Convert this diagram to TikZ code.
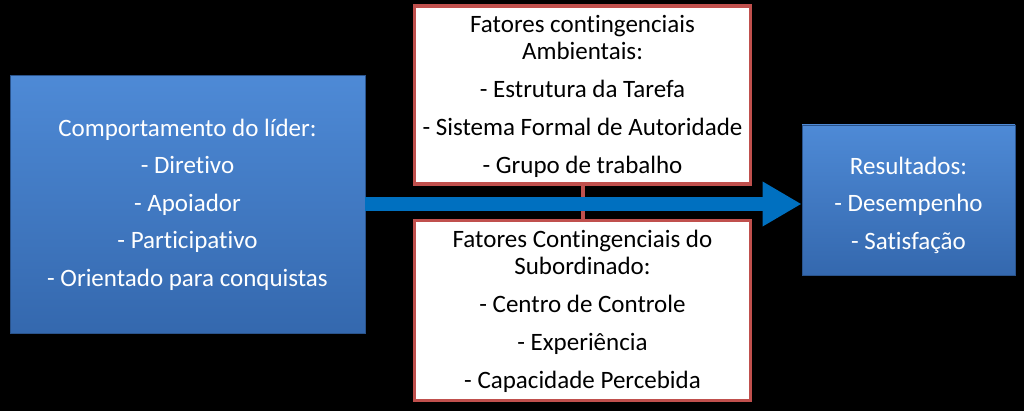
\documentclass[tikz,border=0pt]{standalone}
\usepackage{fontspec}
\setmainfont[Ligatures={NoCommon}]{Carlito}
\usetikzlibrary{arrows.meta}
\definecolor{bluetop}{RGB}{78,138,214}
\definecolor{bluebot}{RGB}{52,104,174}
\definecolor{redb}{RGB}{192,80,77}
\definecolor{arrowblue}{RGB}{0,112,192}
\newcommand{\shiftedlines}[2]{\raisebox{#1}[\height][\depth]{\begin{tabular}{@{}c@{}}#2\end{tabular}}}
\tikzset{
  bluebox/.style={rectangle, top color=bluetop, bottom color=bluebot, draw=bluebot!80!black, line width=0.8pt,
    text=white, align=center, font=\fontsize{25}{27}\selectfont, inner sep=0pt},
  whitebox/.style={rectangle, fill=white, draw=redb, line width=3.5pt,
    text=black, align=center, font=\fontsize{25}{27}\selectfont, inner sep=0pt},
  link/.style={draw=redb, line width=4pt},
  bigarrow/.style={draw=arrowblue, line width=14pt, -{Triangle[width=42pt,length=39pt]}},
}
\begin{document}
\begin{tikzpicture}[x=1pt,y=1pt]
\fill[black] (0,0) rectangle (1024,411);
\useasboundingbox (0,0) rectangle (1024,411);
\node[bluebox, minimum width=355pt, minimum height=258pt] (lider) at (187.5,206.5)
  {Comportamento do líder:\\[10.5pt] - Diretivo\\[10.5pt] - Apoiador\\[10.5pt] - Participativo\\[10.5pt] - Orientado para conquistas};
\node[whitebox, minimum width=336pt, minimum height=178pt] (amb) at (582.5,316)
  {\shiftedlines{-3pt}{Fatores contingenciais\\ Ambientais:\\[11pt] - Estrutura da Tarefa\\[11pt] - Sistema Formal de Autoridade\\[11pt] - Grupo de trabalho}};
\node[whitebox, minimum width=336pt, minimum height=180pt] (sub) at (582.5,100.5)
  {\shiftedlines{-2pt}{Fatores Contingenciais do\\ Subordinado:\\[11pt] - Centro de Controle\\[11pt] - Experiência\\[11pt] - Capacidade Percebida}};
\node[bluebox, minimum width=213pt, minimum height=150pt] (res) at (908.5,211)
  {\shiftedlines{-6.5pt}{Resultados:\\[10.5pt] - Desempenho\\[10.5pt] - Satisfação}};
\draw[link] (amb.south) -- (sub.north);
\draw[bigarrow] ([yshift=0.5pt]lider.east) -- ([yshift=0.5pt]lider.east -| res.west);
\end{tikzpicture}
\end{document}
